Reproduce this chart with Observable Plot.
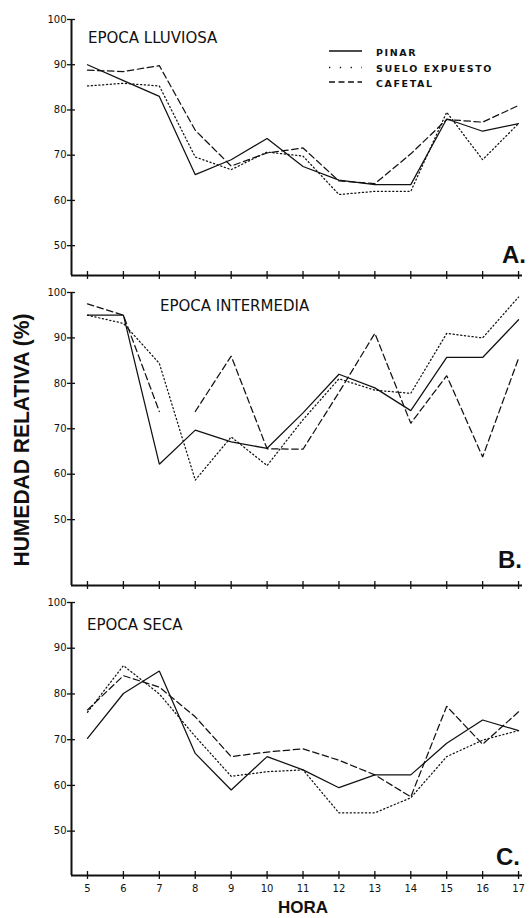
<!DOCTYPE html>
<html>
<head>
<meta charset="utf-8">
<script src="https://cdn.jsdelivr.net/npm/d3@7"></script>
<script src="https://cdn.jsdelivr.net/npm/@observablehq/plot@0.6"></script>
<style>
  body { margin: 0; background: #fff; }
  #wrap { position: relative; width: 531px; height: 918px; overflow: hidden; background: #fff; }
  #wrap > svg, #wrap > figure { position: absolute; left: 0; margin: 0; }
</style>
</head>
<body>
<div id="wrap"></div>
<script>
// ---------- data ----------
const hours = [5, 6, 7, 8, 9, 10, 11, 12, 13, 14, 15, 16, 17];
const yTicks = [50, 60, 70, 80, 90, 100];
const seriesNames = ["PINAR", "SUELO EXPUESTO", "CAFETAL"];
const panelTitles = ["EPOCA LLUVIOSA", "EPOCA INTERMEDIA", "EPOCA SECA"];
const panelLetters = ["A.", "B.", "C."];
const yLabel = "HUMEDAD RELATIVA (%)";
const xLabel = "HORA";

// A. Epoca lluviosa
const pinarA   = [90.0, 86.5, 83.0, 65.7, 69.0, 73.7, 67.5, 64.5, 63.5, 63.5, 78.0, 75.3, 77.0];
const sueloA   = [85.3, 85.9, 85.3, 69.6, 66.8, 70.7, 69.8, 61.3, 62.0, 62.0, 79.5, 69.0, 77.0];
const cafetalA = [88.8, 88.5, 89.8, 75.5, 67.6, 70.5, 71.6, 64.3, 63.7, 70.3, 77.9, 77.3, 81.0];

// B. Epoca intermedia
const pinarB   = [95.0, 95.0, 62.2, 69.7, 67.1, 65.7, 73.5, 82.0, 79.0, 74.0, 85.7, 85.7, 94.0];
const sueloB   = [95.0, 93.2, 84.4, 58.7, 68.2, 61.9, 72.0, 81.0, 78.5, 77.8, 91.0, 90.0, 99.0];
const cafetalB = [97.5, 95.0, 73.8, 73.8, 86.0, 65.6, 65.5, 78.0, 91.0, 71.2, 81.7, 63.8, 85.5];
const cafetalBBreakAfter = 7; // the dashed curve is interrupted between 7 and 8 h

// C. Epoca seca
const pinarC   = [70.3, 80.1, 85.0, 67.0, 59.0, 66.3, 63.4, 59.5, 62.3, 62.3, 69.2, 74.3, 72.0];
const sueloC   = [76.0, 86.2, 80.0, 70.7, 62.0, 63.0, 63.4, 54.0, 54.0, 57.3, 66.3, 69.9, 72.0];
const cafetalC = [76.5, 84.0, 81.5, 75.0, 66.3, 67.3, 68.0, 65.5, 62.3, 57.5, 77.3, 69.0, 76.1];

// ---------- drawing ----------
const INK = "#111";
const W = 531, ML = 71, MR = 9;
const X0 = 4.555, X1 = 17.11;
const styles = {
  "PINAR": null,
  "SUELO EXPUESTO": "1.2,2.6",
  "CAFETAL": "6.5,3.5"
};

function rows(vals, s, breakAfter) {
  return hours.map((h, i) => ({hora: h, v: vals[i], s, seg: breakAfter != null && h > breakAfter ? 1 : 0}));
}

function panel({series, ymin, height, marginTop, marginBottom, showLabels, breakAfter}) {
  const innerH = height - marginTop - marginBottom;
  const innerW = W - ML - MR;
  const marks = [
    Plot.ruleX([X0], {y1: ymin, y2: 100, stroke: INK, strokeWidth: 2}),
    Plot.ruleY([ymin], {x1: X0, x2: X1, stroke: INK, strokeWidth: 2.2}),
    Plot.axisY(yTicks, {tickSize: 4, tickPadding: 1, label: null, stroke: INK, strokeWidth: 1.3, fill: INK, fontSize: 10}),
    Plot.tickY(yTicks, {y: d => d, insetRight: innerW - 4, stroke: INK, strokeWidth: 1.3}),
    Plot.axisX(hours, {tickSize: 4, tickPadding: 5, label: null, stroke: INK, strokeWidth: 1.3, fill: INK, fontSize: 10,
      tickFormat: showLabels ? (d => String(d)) : (() => "")}),
    Plot.tickX(hours, {x: d => d, insetTop: innerH - 4, stroke: INK, strokeWidth: 1.3})
  ];
  seriesNames.forEach((name, k) => {
    const data = rows(series[k], name, name === "CAFETAL" ? breakAfter : null);
    marks.push(Plot.line(data, {
      x: "hora", y: "v", z: "seg", stroke: INK, strokeWidth: 1.25,
      strokeDasharray: styles[name], strokeLinejoin: "miter", curve: "linear"
    }));
  });
  return Plot.plot({
    width: W, height, marginLeft: ML, marginRight: MR, marginTop, marginBottom,
    x: {domain: [X0, X1]},
    y: {domain: [ymin, 100]},
    style: {fontFamily: "'DejaVu Sans', sans-serif", fontSize: "10px", color: INK, background: "transparent"},
    marks
  });
}

const wrap = document.getElementById("wrap");
const panels = [
  {top: 0,   series: [pinarA, sueloA, cafetalA], ymin: 43.4, height: 280, marginTop: 19,   marginBottom: 5,  showLabels: false},
  {top: 280, series: [pinarB, sueloB, cafetalB], ymin: 35.5, height: 310, marginTop: 12,   marginBottom: 5,  showLabels: false, breakAfter: cafetalBBreakAfter},
  {top: 590, series: [pinarC, sueloC, cafetalC], ymin: 40.3, height: 328, marginTop: 12,   marginBottom: 43, showLabels: true}
];
panels.forEach(p => {
  const el = panel(p);
  el.style.position = "absolute";
  el.style.top = p.top + "px";
  el.style.left = "0px";
  wrap.appendChild(el);
});

// ---------- annotation overlay (titles, legend, letters, axis titles) ----------
const NS = "http://www.w3.org/2000/svg";
const ov = document.createElementNS(NS, "svg");
ov.setAttribute("width", W); ov.setAttribute("height", 918);
ov.style.position = "absolute"; ov.style.top = "0px"; ov.style.left = "0px";
function txt(s, x, y, attrs) {
  const t = document.createElementNS(NS, "text");
  t.textContent = s;
  t.setAttribute("x", x); t.setAttribute("y", y);
  t.setAttribute("fill", INK);
  for (const k in attrs) t.setAttribute(k, attrs[k]);
  ov.appendChild(t);
  return t;
}
function ln(x1, y1, x2, y2, dash) {
  const l = document.createElementNS(NS, "line");
  l.setAttribute("x1", x1); l.setAttribute("y1", y1); l.setAttribute("x2", x2); l.setAttribute("y2", y2);
  l.setAttribute("stroke", INK); l.setAttribute("stroke-width", 1.4);
  if (dash) l.setAttribute("stroke-dasharray", dash);
  ov.appendChild(l);
}
const titleFont = {"font-family": "'DejaVu Sans', sans-serif", "font-size": 15};
txt(panelTitles[0], 88, 43, titleFont);
txt(panelTitles[1], 160, 311, titleFont);
txt(panelTitles[2], 87, 630, titleFont);

const legFont = {"font-family": "'DejaVu Sans', sans-serif", "font-size": 9.5, "letter-spacing": 1.6, "font-weight": "bold"};
const legDash = [null, "1.3,9.5", "6,3.5"];
seriesNames.forEach((name, k) => {
  const yy = [51, 67.5, 82][k];
  ln(329, yy, 362, yy, legDash[k]);
  txt(name, 376, yy + 4.5, legFont);
});

const letterFont = {"font-family": "'Liberation Sans', Arial, sans-serif", "font-size": 24, "font-weight": "bold"};
txt(panelLetters[0], 502, 263, letterFont);
txt(panelLetters[1], 498, 568, letterFont);
txt(panelLetters[2], 496, 865, letterFont);

txt(xLabel, 303, 913, {"font-family": "'Liberation Sans', Arial, sans-serif", "font-size": 17, "font-weight": "bold", "text-anchor": "middle"});
txt(yLabel, 0, 0, {"font-family": "'Liberation Sans', Arial, sans-serif", "font-size": 22, "font-weight": "bold",
  "text-anchor": "middle", "textLength": 253, "lengthAdjust": "spacingAndGlyphs",
  "transform": "translate(29,440) rotate(-90)"});
wrap.appendChild(ov);
</script>
</body>
</html>
